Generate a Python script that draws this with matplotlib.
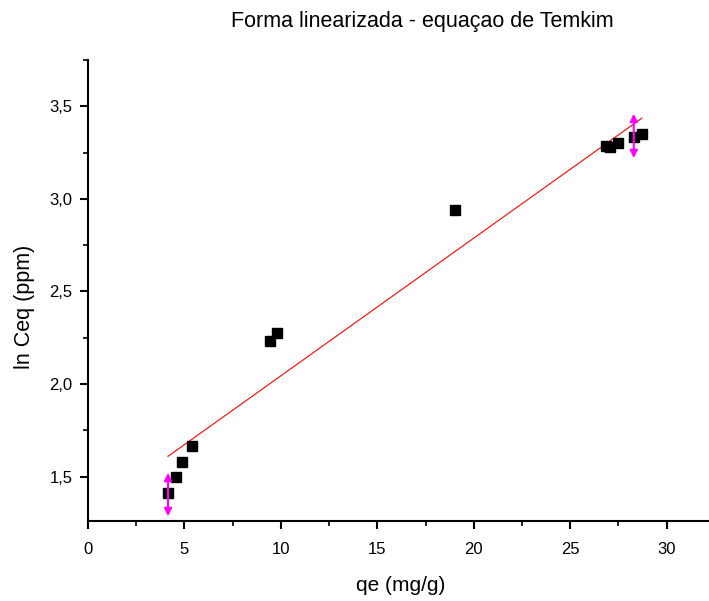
import numpy as np
import matplotlib
matplotlib.use("Agg")
import matplotlib.pyplot as plt
from matplotlib.ticker import MultipleLocator, FuncFormatter

plt.rcParams['font.family'] = ['Liberation Sans', 'DejaVu Sans']

qe = [4.15, 4.56, 4.87, 5.39, 9.43, 9.79, 19.02, 26.84, 27.05, 27.5, 28.3, 28.72]
ln_ceq = [1.41, 1.495, 1.58, 1.667, 2.233, 2.276, 2.94, 3.285, 3.28, 3.30, 3.336, 3.35]
arrow_x = [4.15, 28.3]
arrow_lo = [1.286, 3.22]
arrow_hi = [1.52, 3.46]

fig = plt.figure(figsize=(7.09, 6.01), dpi=100)
ax = fig.add_axes([88/709, 80/601, 1 - 88/709, (521-60)/601])

slope, intercept = np.polyfit(qe, ln_ceq, 1)
xf = np.array([min(qe), max(qe)])
ax.plot(xf, slope*xf + intercept, color='red', lw=0.8, zorder=2)
ax.plot(qe, ln_ceq, 's', color='black', ms=7.5, zorder=3)

for x, lo, hi in zip(arrow_x, arrow_lo, arrow_hi):
    ax.annotate('', xy=(x, hi), xytext=(x, lo),
                arrowprops=dict(arrowstyle='<|-|>', color='#ff00ff', lw=1.5,
                                mutation_scale=11, shrinkA=0, shrinkB=0), zorder=4)

ax.set_xlim(0, 32.2)
ax.set_ylim(1.26, 3.75)
ax.xaxis.set_major_locator(MultipleLocator(5))
ax.xaxis.set_minor_locator(MultipleLocator(2.5))
ax.yaxis.set_major_locator(MultipleLocator(0.5))
ax.yaxis.set_minor_locator(MultipleLocator(0.25))
ax.yaxis.set_major_formatter(FuncFormatter(lambda v, p: f"{v:.1f}".replace('.', ',')))
ax.xaxis.set_major_formatter(FuncFormatter(lambda v, p: f"{v:.0f}"))
for s in ['top', 'right']:
    ax.spines[s].set_visible(False)
for s in ['left', 'bottom']:
    ax.spines[s].set_linewidth(1.5)
ax.tick_params(which='major', direction='out', length=6, width=1.5, labelsize=12, colors='black')
ax.tick_params(which='minor', direction='out', length=3.6, width=1.2)
ax.tick_params(axis='x', pad=9)
ax.tick_params(axis='y', pad=5)
ax.set_xlabel('qe (mg/g)', fontsize=15, va='center')
ax.set_ylabel('ln Ceq (ppm)', fontsize=15.5, va='center')
ax.xaxis.set_label_coords(0.504, -0.139)
ax.yaxis.set_label_coords(-0.103, 0.464)
fig.text(422/709, 1 - 22/601, 'Forma linearizada - equaçao de Temkim', ha='center', va='center', fontsize=15.5)

fig.savefig('out.png', dpi=100)
